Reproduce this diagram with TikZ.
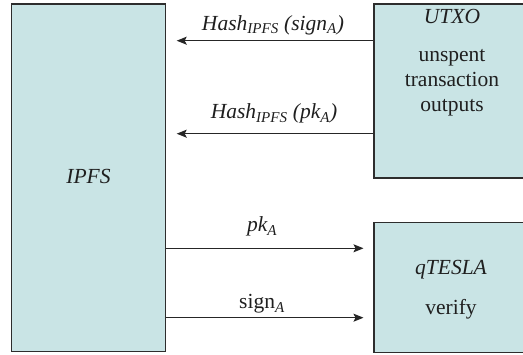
\documentclass[tikz,border=0pt]{standalone}
\usepackage{fontspec}
\setmainfont{Liberation Serif}
\usetikzlibrary{arrows.meta}
\definecolor{boxfill}{RGB}{201,228,229}
\definecolor{boxline}{RGB}{45,45,45}
\tikzset{
  box/.style={draw=boxline, fill=boxfill, line width=1.2pt, inner sep=0pt},
  txt/.style={anchor=base, inner sep=0pt, text=black!88},
  conn/.style={line width=1.1pt, draw=black!85, -{Stealth[length=10pt,width=8pt,inset=2pt]}},
}
\begin{document}
\begin{tikzpicture}[x=1pt,y=-1pt,font=\fontsize{21.5}{25}\selectfont]
\useasboundingbox (0,0) rectangle (523,355);
% boxes
\node[box, minimum width=154pt, minimum height=347.5pt] (ipfs) at (88.7,177.8) {};
\node[box, minimum width=152pt, minimum height=174pt] (utxo) at (450,91) {};
\node[box, minimum width=152pt, minimum height=129.5pt] (qtesla) at (450,287.5) {};
% box texts
\node[txt] (ipfst) at (88.5,184) {\itshape IPFS};
\node[txt] (utxot) at (452,23.3) {\itshape UTXO};
\node[txt] (utxo1) at (452,61.5) {unspent};
\node[txt] (utxo2) at (452,87) {transaction};
\node[txt] (utxo3) at (452,111.5) {outputs};
\node[txt] (qteslat) at (451,275) {\itshape qTESLA};
\node[txt] (verifyt) at (451,315) {verify};
% free ends
\coordinate (e1) at (176.7,40.7);
\coordinate (e2) at (176.7,133.7);
\coordinate (e3) at (363.5,248.3);
\coordinate (e4) at (363.5,317.7);
% connectors
\draw[conn] (utxo.west |- e1) -- (e1);
\draw[conn] (utxo.west |- e2) -- (e2);
\draw[conn] (ipfs.east |- e3) -- (e3);
\draw[conn] (ipfs.east |- e4) -- (e4);
% labels
\node[txt] (l1) at (273,30.5) {\itshape Hash\textsubscript{IPFS} (sign\textsubscript{A})};
\node[txt] (l2) at (274,119) {\itshape Hash\textsubscript{IPFS} (pk\textsubscript{A})};
\node[txt] (l3) at (262,232) {\itshape pk\textsubscript{A}};
\node[txt] (l4) at (262,309) {sign\textsubscript{\itshape A}};
\end{tikzpicture}
\end{document}
